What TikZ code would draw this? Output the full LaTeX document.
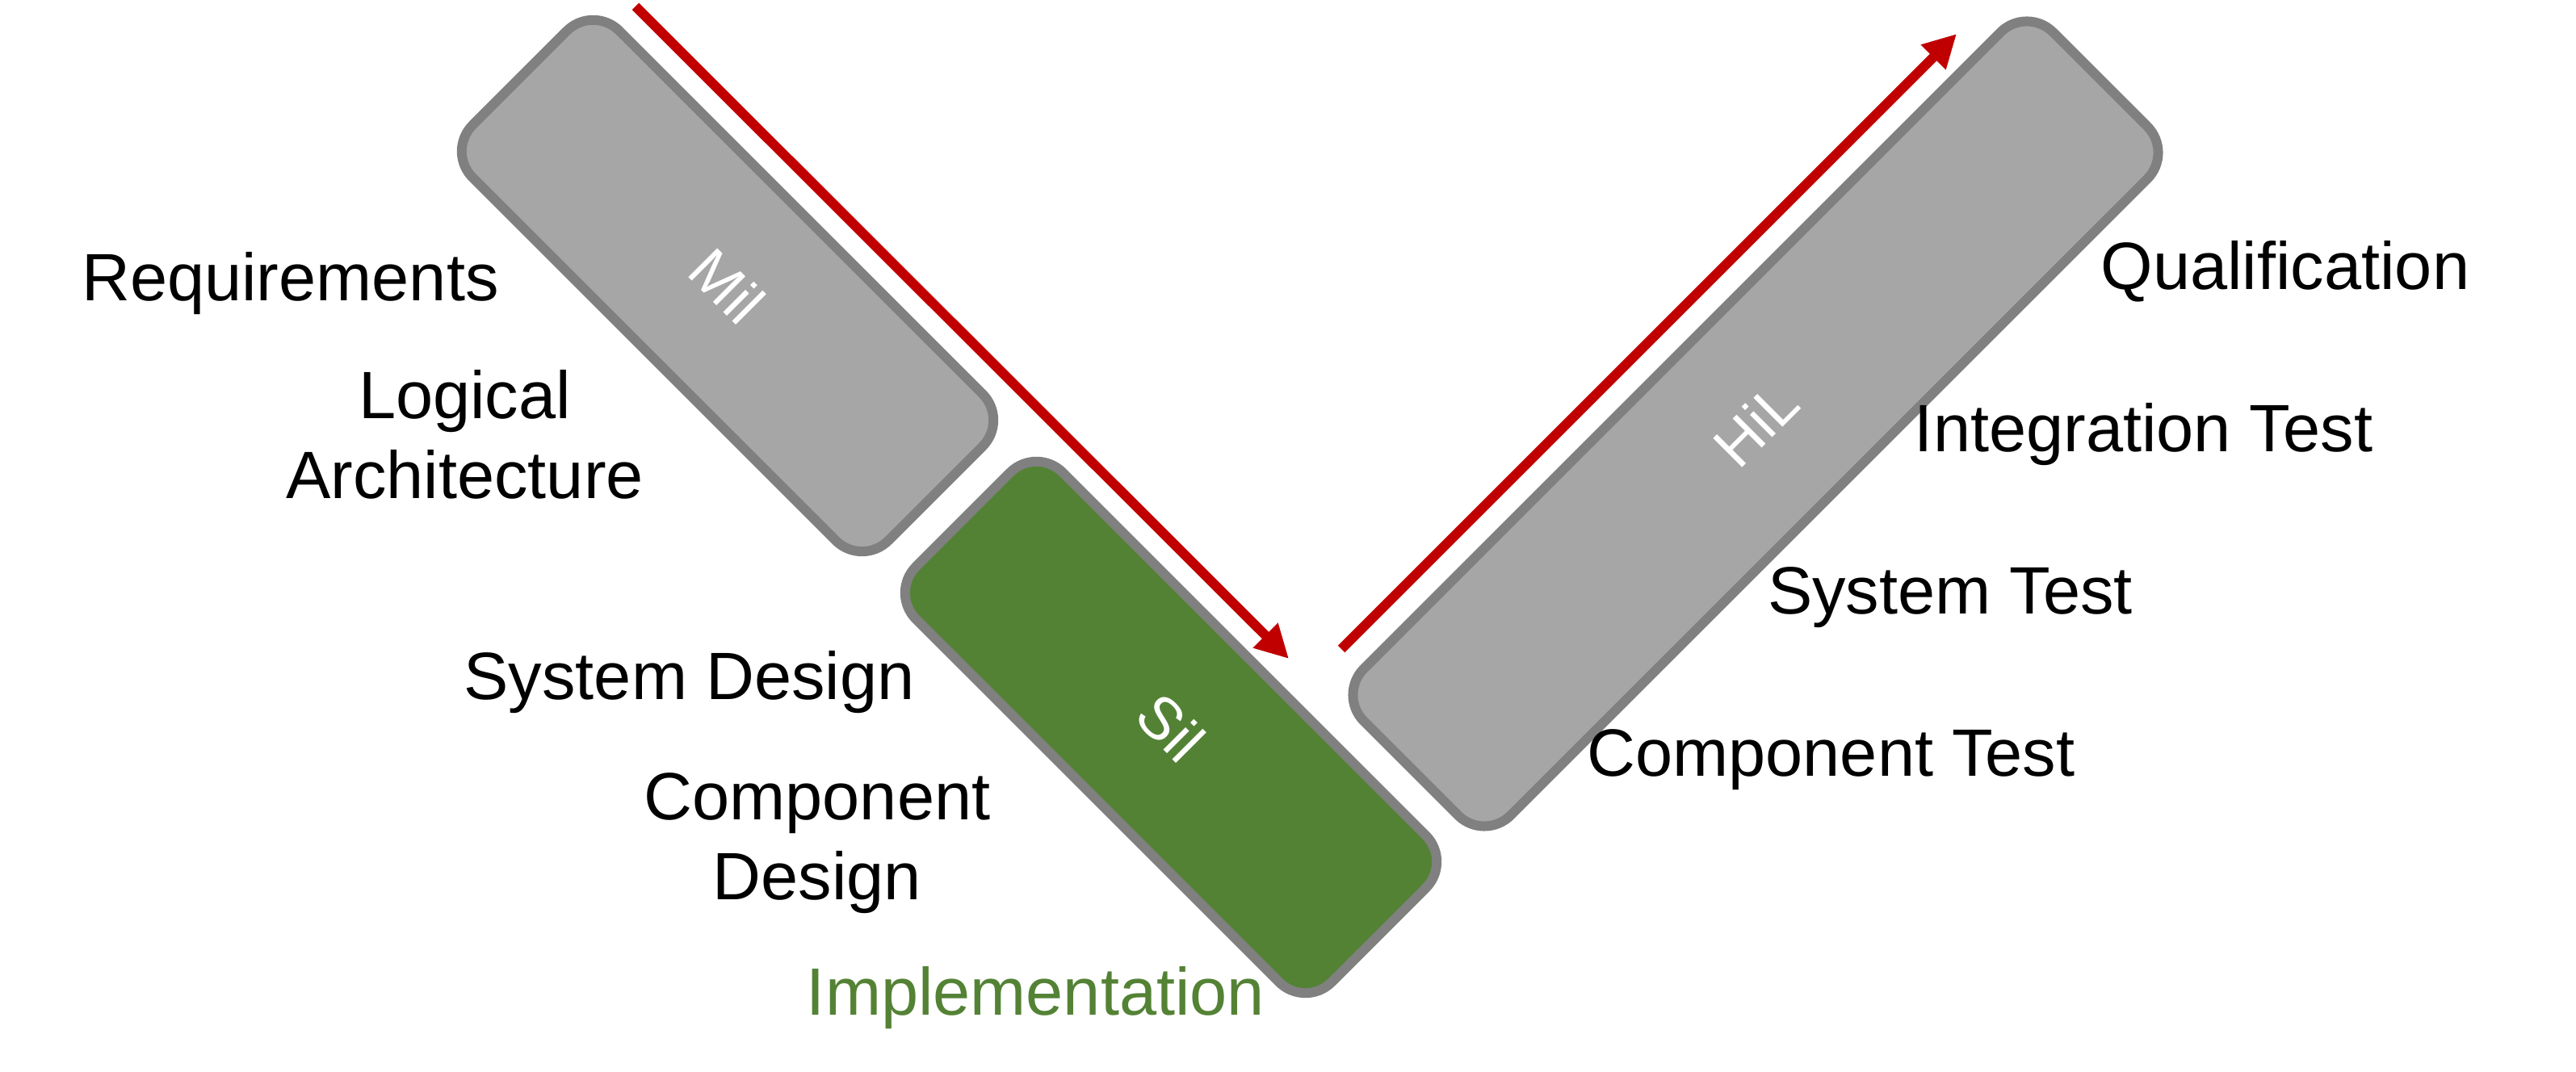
\documentclass[tikz,border=0pt]{standalone}
\usepackage{fontspec}
\setmainfont{Liberation Sans}
\usetikzlibrary{arrows.meta}
\definecolor{boxgray}{HTML}{A6A6A6}
\definecolor{edgegray}{HTML}{808080}
\definecolor{silgreen}{HTML}{548235}
\definecolor{flowred}{HTML}{C00000}
\begin{document}
\begin{tikzpicture}[
	phase/.style={draw=edgegray, line width=0.12cm, rounded corners=0.46cm, minimum height=2.57cm, inner sep=0pt, text=white, font=\fontsize{21}{25}\selectfont},
	stage/.style={font=\fontsize{23.6}{28}\selectfont, align=center, inner sep=0pt},
	flow/.style={draw=flowred, line width=0.12cm, -{Triangle[length=0.41cm,width=0.41cm]}}]
	\useasboundingbox (0,0) rectangle (31.9,13.28);
	% the three test levels
	\node[phase, fill=boxgray, minimum width=7.28cm, rotate=-45] (mil) at (9.01,9.74) {Mil};
	\node[phase, fill=silgreen, minimum width=7.28cm, rotate=-45] (sil) at (14.50,4.27) {Sil};
	\node[phase, fill=boxgray, minimum width=12.07cm, rotate=45] (hil) at (21.74,8.03) {HiL};
	% flow arrows
	\coordinate (down0) at (7.87,13.20);
	\coordinate (down1) at (15.96,5.12);
	\coordinate (up0) at (16.61,5.24);
	\coordinate (up1) at (24.23,12.86);
	\draw[flow] (down0) -- (down1);
	\draw[flow] (up0) -- (up1);
	% left side
	\node[stage, anchor=base] (req) at (3.595,9.55) {Requirements};
	\node[stage] (logarch) at (5.755,7.895) {Logical\\Architecture};
	\node[stage, anchor=base] (sysdes) at (8.535,4.61) {System Design};
	\node[stage] (compdes) at (10.12,2.835) {Component\\Design};
	\node[stage, anchor=base, text=silgreen] (impl) at (12.825,0.70) {Implementation};
	% right side
	\node[stage, anchor=base] (qual) at (28.30,9.69) {Qualification};
	\node[stage, anchor=base] (integ) at (26.545,7.68) {Integration Test};
	\node[stage, anchor=base] (systest) at (24.15,5.67) {System Test};
	\node[stage, anchor=base] (comptest) at (22.675,3.66) {Component Test};
\end{tikzpicture}
\end{document}
